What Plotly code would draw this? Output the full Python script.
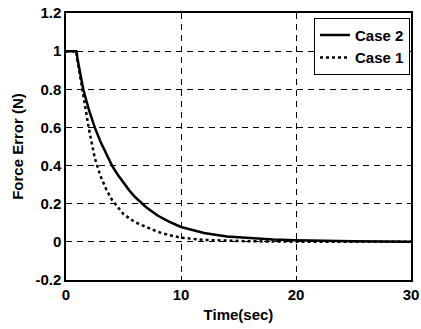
import plotly.graph_objects as go

# Case 2 (solid)
t_case2 = [0, 0.9, 1.0, 1.2, 1.5, 2, 2.5, 3, 3.5, 4, 4.5, 5, 5.5, 6, 7, 8, 9, 10, 11, 12, 14, 16, 18, 20, 22, 25, 30]
y_case2 = [1, 1, 0.96, 0.89, 0.80, 0.69, 0.60, 0.525, 0.46, 0.40, 0.352, 0.31, 0.27, 0.235, 0.18, 0.137, 0.105,
           0.078, 0.06, 0.046, 0.028, 0.018, 0.012, 0.008, 0.005, 0.003, 0.001]
# Case 1 (dotted)
t_case1 = [0, 0.9, 1.0, 1.2, 1.5, 1.75, 2, 2.25, 2.5, 3, 3.5, 4, 4.5, 5, 6, 7, 8, 9, 10, 12, 14, 16, 20, 25, 30]
y_case1 = [1, 1, 0.95, 0.88, 0.79, 0.68, 0.59, 0.51, 0.44, 0.345, 0.275, 0.22, 0.18, 0.145, 0.103, 0.076, 0.052,
           0.035, 0.022, 0.010, 0.005, 0.003, 0.001, 0, 0]

x_ticks = [0, 10, 20, 30]
y_ticks = [-0.2, 0, 0.2, 0.4, 0.6, 0.8, 1, 1.2]
y_tick_text = ["-0.2", "0", "0.2", "0.4", "0.6", "0.8", "1", "1.2"]

font_family = "Liberation Sans, Arial, sans-serif"

fig = go.Figure()
fig.add_trace(go.Scatter(x=t_case2, y=y_case2, mode="lines", name="<b>Case 2</b>",
                         line=dict(color="black", width=2.5)))
fig.add_trace(go.Scatter(x=t_case1, y=y_case1, mode="lines", name="<b>Case 1</b>",
                         line=dict(color="black", width=2.5, dash="dot")))

axis_common = dict(showline=True, linecolor="black", linewidth=1.5, mirror=True,
                   ticks="inside", ticklen=4, tickcolor="black",
                   showgrid=True, gridcolor="black", gridwidth=1, griddash="6px,5px",
                   zeroline=False, automargin=False,
                   tickfont=dict(family=font_family, size=15, color="black"))

fig.update_xaxes(range=[0, 30], tickvals=x_ticks,
                 ticktext=[f"<b>{v}</b>" for v in x_ticks],
                 title=dict(text="<b>Time(sec)</b>", font=dict(family=font_family, size=15, color="black"),
                            standoff=8),
                 **axis_common)
fig.update_yaxes(range=[-0.2, 1.2], tickvals=y_ticks,
                 ticktext=[f"<b>{v}</b>" for v in y_tick_text],
                 title=dict(text="<b>Force Error (N)</b>", font=dict(family=font_family, size=15, color="black"),
                            standoff=8),
                 **axis_common)

fig.update_layout(
    width=421, height=329,
    margin=dict(l=66, r=10, t=13, b=49),
    paper_bgcolor="white", plot_bgcolor="white",
    showlegend=True,
    legend=dict(x=0.997, y=0.982, xanchor="right", yanchor="top",
                bgcolor="white", bordercolor="black", borderwidth=1,
                font=dict(family=font_family, size=15, color="black"),
                tracegroupgap=0, itemwidth=30),
    font=dict(family=font_family, color="black"),
)

fig.write_html("out.html")
